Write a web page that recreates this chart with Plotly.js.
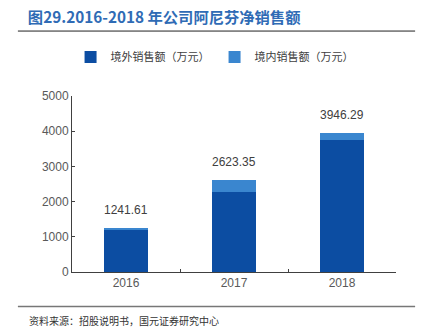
<!DOCTYPE html>
<html><head><meta charset="utf-8">
<script src="https://cdn.plot.ly/plotly-3.0.1.min.js"></script>
<style>html,body{margin:0;padding:0;background:#fff}#c{width:422px;height:335px}</style>
</head><body><div id="c"></div>
<script>
const years = ['2016','2017','2018'];
const overseas = [1201.61, 2283.35, 3756.29];
const domestic = [40, 340, 190];
const totals = [1241.61, 2623.35, 3946.29];
const totalLabels = ['1241.61','2623.35','3946.29'];
const seriesNames = ['境外销售额（万元）','境内销售额（万元）'];
const yTicks = [0,1000,2000,3000,4000,5000];

const cjk = '"Noto Sans CJK SC", "Noto Sans", sans-serif';
const latin = 'Arial, "Liberation Sans", sans-serif';

const traces = [
  {type:'bar', x:years, y:overseas, name:seriesNames[0], marker:{color:'#0C4DA2'}},
  {type:'bar', x:years, y:domestic, name:seriesNames[1], marker:{color:'#3A86CF'}}
];

const annos = years.map((yr,i)=>({
  x:years.indexOf(yr), y:totals[i], xref:'x', yref:'y', text:totalLabels[i], showarrow:false,
  yanchor:'bottom', yshift:9, font:{family:latin, size:12, color:'#404040'}
}));
annos.push({
  xref:'paper', yref:'paper', x:-0.139, y:-0.278, xanchor:'left', yanchor:'middle',
  text:'资料来源：招股说明书，国元证券研究中心', showarrow:false,
  font:{family:cjk, size:10, color:'#333333'}
});

const layout = {
  width:422, height:335,
  margin:{l:72, r:26, t:96, b:63},
  paper_bgcolor:'#fff', plot_bgcolor:'#fff',
  barmode:'stack', bargap:0.59,
  title:{text:'<b>图29.2016-2018 年公司阿尼芬净销售额</b>', x:0.066, xanchor:'left', xref:'container',
    y:0.948, yref:'container', yanchor:'middle', font:{family:cjk, size:15.3, color:'#2F6BB5'}},
  showlegend:true,
  legend:{orientation:'h', x:0.44, xanchor:'center', y:1.222, yanchor:'middle',
    font:{family:cjk, size:11, color:'#404040'}, traceorder:'normal', bgcolor:'rgba(0,0,0,0)'},
  xaxis:{type:'category', range:[-0.5, 2.5], autorange:false, showline:true, linecolor:'#404040', linewidth:1,
    ticks:'inside', ticklen:3, tickcolor:'#404040', tickson:'boundaries', showgrid:false, zeroline:false,
    tickfont:{family:latin, size:12, color:'#595959'}},
  yaxis:{range:[0,5000], autorange:false, tickvals:yTicks, showline:true, linecolor:'#404040', linewidth:1,
    ticks:'inside', ticklen:3, tickcolor:'#404040', showgrid:false, zeroline:false,
    tickfont:{family:latin, size:12, color:'#595959'}},
  annotations:annos,
  shapes:[
    {type:'line', xref:'paper', yref:'paper', x0:-0.167, x1:1.059, y0:1.369, y1:1.369, line:{color:'#222', width:1}},
    {type:'line', xref:'paper', yref:'paper', x0:-0.167, x1:1.059, y0:-0.196, y1:-0.196, line:{color:'#777', width:1.5}}
  ]
};
Plotly.newPlot('c', traces, layout, {displayModeBar:false, staticPlot:true});
</script></body></html>
